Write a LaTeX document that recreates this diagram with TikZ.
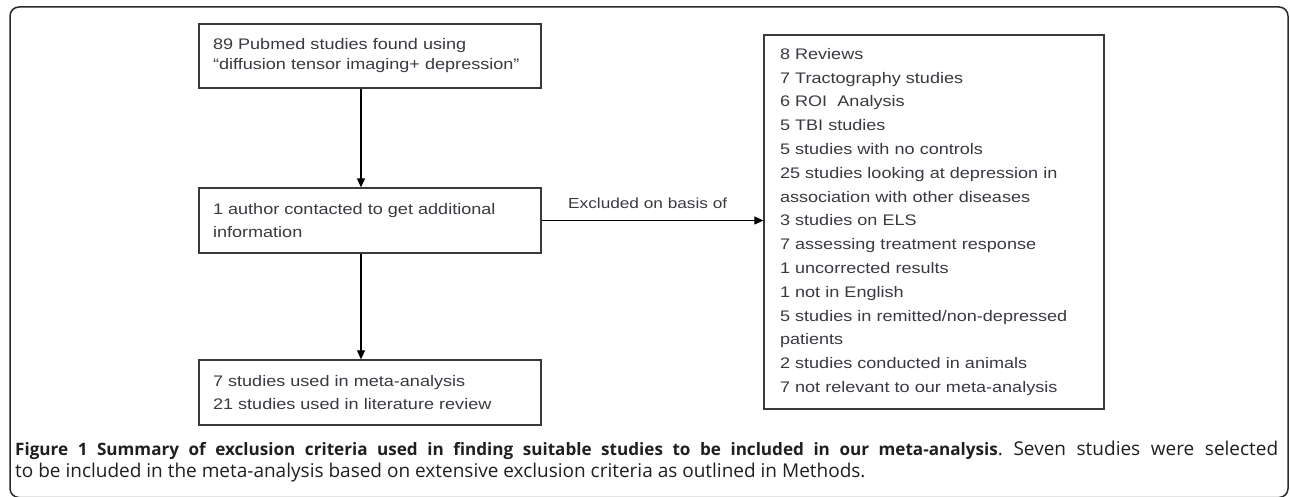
\documentclass[tikz,border=0pt]{standalone}
\usepackage{fontspec}
\setmainfont{Liberation Sans}[FakeStretch=1.18]
\newfontfamily\capfont{Open Sans}
\usetikzlibrary{arrows.meta}
\definecolor{boxline}{HTML}{3A3A3A}
\definecolor{txt}{HTML}{3C3840}
\definecolor{frameline}{HTML}{2A2A2A}
\tikzset{
  flowbox/.style={draw=boxline, line width=1.3pt, fill=white, text=txt,
    inner xsep=14pt, inner ysep=0pt, align=left, minimum width=342pt,
    font=\fontsize{15.3pt}{23.8pt}\selectfont},
  arr/.style={draw=black, line width=1.1pt, -{Triangle[length=9pt,width=8pt]}},
  capt/.style={inner sep=0pt, text=black!88, font=\capfont\fontsize{19pt}{22pt}\selectfont\frenchspacing},
  lbl/.style={inner sep=0pt, text=txt, font=\fontsize{14.6pt}{18pt}\selectfont}
}
\newcommand{\capbold}[1]{{\fontsize{17.1pt}{22pt}\selectfont\bfseries #1}}
\begin{document}
\begin{tikzpicture}[x=1pt,y=-1pt]
\useasboundingbox (0,0) rectangle (1290,497);
\clip (0,0) rectangle (1290,497);
\draw[draw=frameline, line width=1.5pt, rounded corners=9pt] (10,7) rectangle (1288,497.5);

\node[flowbox, text width=314pt, minimum height=64pt, font=\fontsize{15.3pt}{20pt}\selectfont] (b1) at (370,56)
  {89 Pubmed studies found using\\``diffusion tensor imaging+ depression''};
\node[flowbox, text width=314pt, minimum height=65pt] (b2) at (370,220.5)
  {1 author contacted to get additional\\information};
\node[flowbox, text width=314pt, minimum height=65pt] (b3) at (370,392.5)
  {7 studies used in meta-analysis\\21 studies used in literature review};
\node[flowbox, text width=308pt, inner xsep=16pt, minimum width=340pt, minimum height=374pt] (ex) at (934,222)
  {8 Reviews\\
   7 Tractography studies\\
   6 ROI\ \ Analysis\\
   5 TBI studies\\
   5 studies with no controls\\
   25 studies looking at depression in\\
   association with other diseases\\
   3 studies on ELS\\
   7 assessing treatment response\\
   1 uncorrected results\\
   1 not in English\\
   5 studies in remitted/non-depressed\\
   patients\\
   2 studies conducted in animals\\
   7 not relevant to our meta-analysis};

\coordinate (ax) at (361,0);
\draw[arr] (b1.south -| ax) -- (b2.north -| ax);
\draw[arr] (b2.south -| ax) -- (b3.north -| ax);
\draw[arr] (b2.east) -- (b2.east -| ex.west);
\node[lbl, anchor=west] (exl) at (568,203) {Excluded on basis of};

\node[capt, anchor=base west] (cap1) at (15,455)
  {\makebox[1263pt][s]{\capbold{Figure 1 Summary of exclusion criteria used in finding suitable studies to be included in our meta-analysis}. Seven studies were selected}};
\node[capt, anchor=base west] (cap2) at (15,477)
  {to be included in the meta-analysis based on extensive exclusion criteria as outlined in Methods.};
\end{tikzpicture}
\end{document}
